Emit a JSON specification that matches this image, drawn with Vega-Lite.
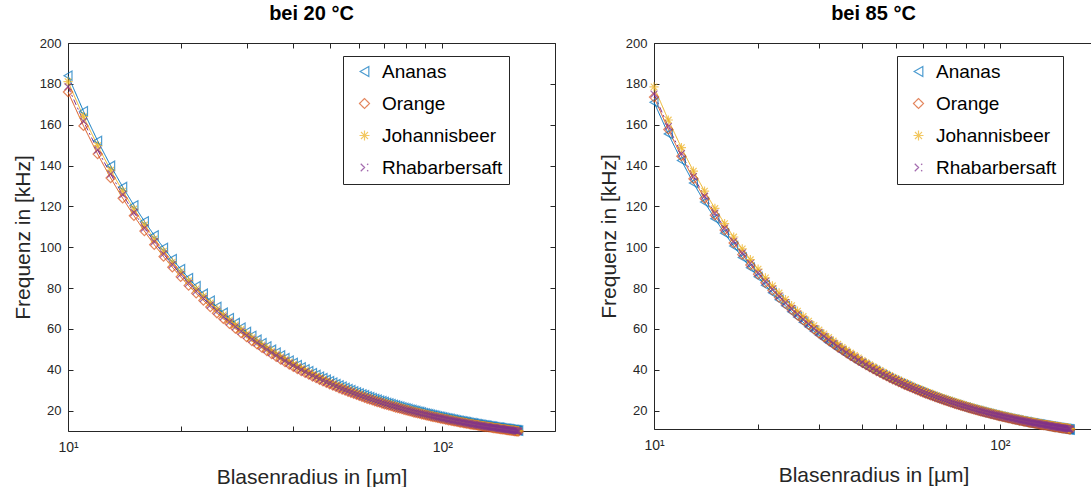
{
"$schema": "https://vega.github.io/schema/vega-lite/v6.json",
"background": "white",
"padding": {"left": 12, "top": 4, "right": 0, "bottom": 0},
"config": {
  "view": {"stroke": null},
  "font": "Liberation Sans",
  "axis": {"domainColor": "#262626", "tickColor": "#262626", "labelColor": "#262626", "titleColor": "#262626", "labelFont": "Liberation Sans", "titleFont": "Liberation Sans", "labelFontSize": 13, "titleFontSize": 21, "titleFontWeight": "normal", "grid": false, "tickSize": -5, "labelPadding": 12, "domainWidth": 1, "tickWidth": 1},
  "title": {"fontSize": 20, "fontWeight": "bold", "color": "#000000", "font": "Liberation Sans"},
  "legend": {"orient": "none", "title": null, "strokeColor": "#262626", "fillColor": "white", "padding": 6, "labelFontSize": 19, "labelFont": "Liberation Sans", "labelColor": "#000000", "symbolSize": 100, "symbolStrokeWidth": 1.2, "rowPadding": 12, "symbolOffset": 6, "labelOffset": 8},
  "concat": {"spacing": 42}
},
"resolve": {"scale": {"color": "independent", "shape": "independent", "strokeDash": "independent"}, "legend": {"color": "independent", "shape": "independent"}},
"datasets": {
"names": [
 {"k":"a","s":"Ananas","i":0},{"k":"o","s":"Orange","i":1},{"k":"j","s":"Johannisbeer","i":2},{"k":"h","s":"Rhabarbersaft","i":3},
 {"k":"a2","s":"Ananas","i":0},{"k":"o2","s":"Orange","i":1},{"k":"j2","s":"Johannisbeer","i":2},{"k":"h2","s":"Rhabarbersaft","i":3}
],
"d": [
{"r":10,"a":184.0,"o":176.0,"j":181.1,"h":178.6,"a2":171.0,"o2":173.5,"j2":178.5,"h2":175.0},
{"r":11,"a":166.6,"o":159.4,"j":163.9,"h":161.7,"a2":155.5,"o2":157.7,"j2":162.3,"h2":159.1},
{"r":12,"a":152.1,"o":145.6,"j":149.7,"h":147.6,"a2":142.5,"o2":144.6,"j2":148.8,"h2":145.8},
{"r":13,"a":139.9,"o":133.9,"j":137.7,"h":135.8,"a2":131.5,"o2":133.5,"j2":137.3,"h2":134.6},
{"r":14,"a":129.5,"o":124.0,"j":127.5,"h":125.7,"a2":122.1,"o2":123.9,"j2":127.5,"h2":125.0},
{"r":15,"a":120.5,"o":115.4,"j":118.7,"h":117.0,"a2":114.0,"o2":115.7,"j2":119.0,"h2":116.7},
{"r":16,"a":112.7,"o":107.9,"j":110.9,"h":109.4,"a2":106.9,"o2":108.4,"j2":111.6,"h2":109.4},
{"r":17,"a":105.8,"o":101.2,"j":104.1,"h":102.7,"a2":100.6,"o2":102.1,"j2":105.0,"h2":102.9},
{"r":18,"a":99.7,"o":95.4,"j":98.1,"h":96.7,"a2":95.0,"o2":96.4,"j2":99.2,"h2":97.2},
{"r":19,"a":94.2,"o":90.2,"j":92.7,"h":91.5,"a2":90.0,"o2":91.3,"j2":93.9,"h2":92.1},
{"r":20,"a":89.3,"o":85.5,"j":87.9,"h":86.7,"a2":85.5,"o2":86.8,"j2":89.3,"h2":87.5},
{"r":21,"a":84.9,"o":81.2,"j":83.6,"h":82.4,"a2":81.4,"o2":82.6,"j2":85.0,"h2":83.3},
{"r":22,"a":80.9,"o":77.4,"j":79.6,"h":78.5,"a2":77.7,"o2":78.9,"j2":81.1,"h2":79.5},
{"r":23,"a":77.2,"o":73.9,"j":76.0,"h":74.9,"a2":74.3,"o2":75.4,"j2":77.6,"h2":76.1},
{"r":24,"a":73.8,"o":70.7,"j":72.7,"h":71.7,"a2":71.3,"o2":72.3,"j2":74.4,"h2":72.9},
{"r":25,"a":70.8,"o":67.7,"j":69.7,"h":68.7,"a2":68.4,"o2":69.4,"j2":71.4,"h2":70.0},
{"r":26,"a":67.9,"o":65.0,"j":66.9,"h":65.9,"a2":65.8,"o2":66.7,"j2":68.7,"h2":67.3},
{"r":27,"a":65.3,"o":62.5,"j":64.3,"h":63.4,"a2":63.3,"o2":64.3,"j2":66.1,"h2":64.8},
{"r":28,"a":62.9,"o":60.2,"j":61.9,"h":61.0,"a2":61.1,"o2":62.0,"j2":63.8,"h2":62.5},
{"r":29,"a":60.6,"o":58.0,"j":59.7,"h":58.8,"a2":59.0,"o2":59.8,"j2":61.6,"h2":60.3},
{"r":30,"a":58.5,"o":56.0,"j":57.6,"h":56.8,"a2":57.0,"o2":57.8,"j2":59.5,"h2":58.3},
{"r":31,"a":56.6,"o":54.1,"j":55.7,"h":54.9,"a2":55.2,"o2":56.0,"j2":57.6,"h2":56.5},
{"r":32,"a":54.7,"o":52.4,"j":53.9,"h":53.1,"a2":53.4,"o2":54.2,"j2":55.8,"h2":54.7},
{"r":33,"a":53.0,"o":50.7,"j":52.2,"h":51.4,"a2":51.8,"o2":52.6,"j2":54.1,"h2":53.0},
{"r":34,"a":51.4,"o":49.2,"j":50.6,"h":49.9,"a2":50.3,"o2":51.0,"j2":52.5,"h2":51.5},
{"r":35,"a":49.8,"o":47.7,"j":49.1,"h":48.4,"a2":48.9,"o2":49.6,"j2":51.0,"h2":50.0},
{"r":36,"a":48.4,"o":46.3,"j":47.6,"h":47.0,"a2":47.5,"o2":48.2,"j2":49.6,"h2":48.6},
{"r":37,"a":47.0,"o":45.0,"j":46.3,"h":45.7,"a2":46.2,"o2":46.9,"j2":48.2,"h2":47.3},
{"r":38,"a":45.7,"o":43.8,"j":45.0,"h":44.4,"a2":45.0,"o2":45.7,"j2":47.0,"h2":46.1},
{"r":39,"a":44.5,"o":42.6,"j":43.8,"h":43.2,"a2":43.8,"o2":44.5,"j2":45.8,"h2":44.9},
{"r":40,"a":43.4,"o":41.5,"j":42.7,"h":42.1,"a2":42.8,"o2":43.4,"j2":44.6,"h2":43.8},
{"r":41,"a":42.3,"o":40.4,"j":41.6,"h":41.0,"a2":41.7,"o2":42.3,"j2":43.5,"h2":42.7},
{"r":42,"a":41.2,"o":39.4,"j":40.6,"h":40.0,"a2":40.7,"o2":41.3,"j2":42.5,"h2":41.7},
{"r":43,"a":40.2,"o":38.5,"j":39.6,"h":39.0,"a2":39.8,"o2":40.3,"j2":41.5,"h2":40.7},
{"r":44,"a":39.3,"o":37.6,"j":38.6,"h":38.1,"a2":38.9,"o2":39.4,"j2":40.6,"h2":39.8},
{"r":45,"a":38.3,"o":36.7,"j":37.7,"h":37.2,"a2":38.0,"o2":38.6,"j2":39.7,"h2":38.9},
{"r":46,"a":37.5,"o":35.9,"j":36.9,"h":36.4,"a2":37.2,"o2":37.7,"j2":38.8,"h2":38.0},
{"r":47,"a":36.6,"o":35.1,"j":36.1,"h":35.6,"a2":36.4,"o2":36.9,"j2":38.0,"h2":37.2},
{"r":48,"a":35.9,"o":34.3,"j":35.3,"h":34.8,"a2":35.6,"o2":36.1,"j2":37.2,"h2":36.5},
{"r":49,"a":35.1,"o":33.6,"j":34.5,"h":34.1,"a2":34.9,"o2":35.4,"j2":36.4,"h2":35.7},
{"r":50,"a":34.4,"o":32.9,"j":33.8,"h":33.4,"a2":34.2,"o2":34.7,"j2":35.7,"h2":35.0},
{"r":51,"a":33.7,"o":32.2,"j":33.1,"h":32.7,"a2":33.5,"o2":34.0,"j2":35.0,"h2":34.3},
{"r":52,"a":33.0,"o":31.6,"j":32.5,"h":32.0,"a2":32.9,"o2":33.4,"j2":34.3,"h2":33.7},
{"r":53,"a":32.3,"o":30.9,"j":31.8,"h":31.4,"a2":32.3,"o2":32.7,"j2":33.7,"h2":33.0},
{"r":54,"a":31.7,"o":30.3,"j":31.2,"h":30.8,"a2":31.7,"o2":32.1,"j2":33.1,"h2":32.4},
{"r":55,"a":31.1,"o":29.8,"j":30.6,"h":30.2,"a2":31.1,"o2":31.5,"j2":32.5,"h2":31.8},
{"r":56,"a":30.5,"o":29.2,"j":30.0,"h":29.6,"a2":30.5,"o2":31.0,"j2":31.9,"h2":31.3},
{"r":57,"a":30.0,"o":28.7,"j":29.5,"h":29.1,"a2":30.0,"o2":30.4,"j2":31.3,"h2":30.7},
{"r":58,"a":29.4,"o":28.2,"j":29.0,"h":28.6,"a2":29.5,"o2":29.9,"j2":30.8,"h2":30.2},
{"r":59,"a":28.9,"o":27.7,"j":28.5,"h":28.1,"a2":29.0,"o2":29.4,"j2":30.3,"h2":29.7},
{"r":60,"a":28.4,"o":27.2,"j":28.0,"h":27.6,"a2":28.5,"o2":28.9,"j2":29.8,"h2":29.2},
{"r":61,"a":27.9,"o":26.7,"j":27.5,"h":27.1,"a2":28.0,"o2":28.4,"j2":29.3,"h2":28.7},
{"r":62,"a":27.5,"o":26.3,"j":27.0,"h":26.7,"a2":27.6,"o2":28.0,"j2":28.8,"h2":28.2},
{"r":63,"a":27.0,"o":25.8,"j":26.6,"h":26.2,"a2":27.1,"o2":27.5,"j2":28.3,"h2":27.8},
{"r":64,"a":26.6,"o":25.4,"j":26.1,"h":25.8,"a2":26.7,"o2":27.1,"j2":27.9,"h2":27.3},
{"r":65,"a":26.1,"o":25.0,"j":25.7,"h":25.4,"a2":26.3,"o2":26.7,"j2":27.5,"h2":26.9},
{"r":66,"a":25.7,"o":24.6,"j":25.3,"h":25.0,"a2":25.9,"o2":26.3,"j2":27.0,"h2":26.5},
{"r":67,"a":25.3,"o":24.2,"j":24.9,"h":24.6,"a2":25.5,"o2":25.9,"j2":26.6,"h2":26.1},
{"r":68,"a":24.9,"o":23.9,"j":24.5,"h":24.2,"a2":25.1,"o2":25.5,"j2":26.3,"h2":25.7},
{"r":69,"a":24.6,"o":23.5,"j":24.2,"h":23.8,"a2":24.8,"o2":25.1,"j2":25.9,"h2":25.4},
{"r":70,"a":24.2,"o":23.1,"j":23.8,"h":23.5,"a2":24.4,"o2":24.8,"j2":25.5,"h2":25.0},
{"r":71,"a":23.8,"o":22.8,"j":23.5,"h":23.1,"a2":24.1,"o2":24.4,"j2":25.1,"h2":24.6},
{"r":72,"a":23.5,"o":22.5,"j":23.1,"h":22.8,"a2":23.8,"o2":24.1,"j2":24.8,"h2":24.3},
{"r":73,"a":23.2,"o":22.2,"j":22.8,"h":22.5,"a2":23.4,"o2":23.8,"j2":24.5,"h2":24.0},
{"r":74,"a":22.8,"o":21.8,"j":22.5,"h":22.2,"a2":23.1,"o2":23.4,"j2":24.1,"h2":23.6},
{"r":75,"a":22.5,"o":21.5,"j":22.2,"h":21.9,"a2":22.8,"o2":23.1,"j2":23.8,"h2":23.3},
{"r":76,"a":22.2,"o":21.3,"j":21.9,"h":21.6,"a2":22.5,"o2":22.8,"j2":23.5,"h2":23.0},
{"r":77,"a":21.9,"o":21.0,"j":21.6,"h":21.3,"a2":22.2,"o2":22.5,"j2":23.2,"h2":22.7},
{"r":78,"a":21.6,"o":20.7,"j":21.3,"h":21.0,"a2":21.9,"o2":22.2,"j2":22.9,"h2":22.4},
{"r":79,"a":21.3,"o":20.4,"j":21.0,"h":20.7,"a2":21.6,"o2":22.0,"j2":22.6,"h2":22.2},
{"r":80,"a":21.1,"o":20.1,"j":20.7,"h":20.4,"a2":21.4,"o2":21.7,"j2":22.3,"h2":21.9},
{"r":81,"a":20.8,"o":19.9,"j":20.5,"h":20.2,"a2":21.1,"o2":21.4,"j2":22.0,"h2":21.6},
{"r":82,"a":20.5,"o":19.6,"j":20.2,"h":19.9,"a2":20.9,"o2":21.2,"j2":21.8,"h2":21.3},
{"r":83,"a":20.3,"o":19.4,"j":19.9,"h":19.7,"a2":20.6,"o2":20.9,"j2":21.5,"h2":21.1},
{"r":84,"a":20.0,"o":19.1,"j":19.7,"h":19.4,"a2":20.4,"o2":20.7,"j2":21.2,"h2":20.8},
{"r":85,"a":19.8,"o":18.9,"j":19.5,"h":19.2,"a2":20.1,"o2":20.4,"j2":21.0,"h2":20.6},
{"r":86,"a":19.5,"o":18.7,"j":19.2,"h":18.9,"a2":19.9,"o2":20.2,"j2":20.8,"h2":20.3},
{"r":87,"a":19.3,"o":18.5,"j":19.0,"h":18.7,"a2":19.7,"o2":19.9,"j2":20.5,"h2":20.1},
{"r":88,"a":19.1,"o":18.2,"j":18.8,"h":18.5,"a2":19.4,"o2":19.7,"j2":20.3,"h2":19.9},
{"r":89,"a":18.8,"o":18.0,"j":18.5,"h":18.3,"a2":19.2,"o2":19.5,"j2":20.1,"h2":19.7},
{"r":90,"a":18.6,"o":17.8,"j":18.3,"h":18.1,"a2":19.0,"o2":19.3,"j2":19.8,"h2":19.4},
{"r":91,"a":18.4,"o":17.6,"j":18.1,"h":17.9,"a2":18.8,"o2":19.1,"j2":19.6,"h2":19.2},
{"r":92,"a":18.2,"o":17.4,"j":17.9,"h":17.7,"a2":18.6,"o2":18.9,"j2":19.4,"h2":19.0},
{"r":93,"a":18.0,"o":17.2,"j":17.7,"h":17.5,"a2":18.4,"o2":18.7,"j2":19.2,"h2":18.8},
{"r":94,"a":17.8,"o":17.0,"j":17.5,"h":17.3,"a2":18.2,"o2":18.5,"j2":19.0,"h2":18.6},
{"r":95,"a":17.6,"o":16.8,"j":17.3,"h":17.1,"a2":18.0,"o2":18.3,"j2":18.8,"h2":18.4},
{"r":96,"a":17.4,"o":16.7,"j":17.1,"h":16.9,"a2":17.8,"o2":18.1,"j2":18.6,"h2":18.2},
{"r":97,"a":17.2,"o":16.5,"j":17.0,"h":16.7,"a2":17.6,"o2":17.9,"j2":18.4,"h2":18.0},
{"r":98,"a":17.0,"o":16.3,"j":16.8,"h":16.5,"a2":17.4,"o2":17.7,"j2":18.2,"h2":17.9},
{"r":99,"a":16.9,"o":16.1,"j":16.6,"h":16.4,"a2":17.3,"o2":17.5,"j2":18.0,"h2":17.7},
{"r":100,"a":16.7,"o":16.0,"j":16.4,"h":16.2,"a2":17.1,"o2":17.4,"j2":17.9,"h2":17.5},
{"r":101,"a":16.5,"o":15.8,"j":16.2,"h":16.0,"a2":16.9,"o2":17.2,"j2":17.7,"h2":17.3},
{"r":102,"a":16.3,"o":15.6,"j":16.1,"h":15.9,"a2":16.8,"o2":17.0,"j2":17.5,"h2":17.2},
{"r":103,"a":16.2,"o":15.5,"j":15.9,"h":15.7,"a2":16.6,"o2":16.8,"j2":17.3,"h2":17.0},
{"r":104,"a":16.0,"o":15.3,"j":15.8,"h":15.5,"a2":16.4,"o2":16.7,"j2":17.2,"h2":16.8},
{"r":105,"a":15.9,"o":15.2,"j":15.6,"h":15.4,"a2":16.3,"o2":16.5,"j2":17.0,"h2":16.7},
{"r":106,"a":15.7,"o":15.0,"j":15.5,"h":15.2,"a2":16.1,"o2":16.4,"j2":16.8,"h2":16.5},
{"r":107,"a":15.5,"o":14.9,"j":15.3,"h":15.1,"a2":16.0,"o2":16.2,"j2":16.7,"h2":16.4},
{"r":108,"a":15.4,"o":14.7,"j":15.2,"h":14.9,"a2":15.8,"o2":16.1,"j2":16.5,"h2":16.2},
{"r":109,"a":15.2,"o":14.6,"j":15.0,"h":14.8,"a2":15.7,"o2":15.9,"j2":16.4,"h2":16.1},
{"r":110,"a":15.1,"o":14.5,"j":14.9,"h":14.7,"a2":15.5,"o2":15.8,"j2":16.2,"h2":15.9},
{"r":111,"a":15.0,"o":14.3,"j":14.7,"h":14.5,"a2":15.4,"o2":15.6,"j2":16.1,"h2":15.8},
{"r":112,"a":14.8,"o":14.2,"j":14.6,"h":14.4,"a2":15.3,"o2":15.5,"j2":15.9,"h2":15.6},
{"r":113,"a":14.7,"o":14.1,"j":14.5,"h":14.3,"a2":15.1,"o2":15.4,"j2":15.8,"h2":15.5},
{"r":114,"a":14.6,"o":13.9,"j":14.3,"h":14.1,"a2":15.0,"o2":15.2,"j2":15.7,"h2":15.4},
{"r":115,"a":14.4,"o":13.8,"j":14.2,"h":14.0,"a2":14.9,"o2":15.1,"j2":15.5,"h2":15.2},
{"r":116,"a":14.3,"o":13.7,"j":14.1,"h":13.9,"a2":14.7,"o2":15.0,"j2":15.4,"h2":15.1},
{"r":117,"a":14.2,"o":13.6,"j":13.9,"h":13.7,"a2":14.6,"o2":14.8,"j2":15.3,"h2":15.0},
{"r":118,"a":14.0,"o":13.4,"j":13.8,"h":13.6,"a2":14.5,"o2":14.7,"j2":15.1,"h2":14.8},
{"r":119,"a":13.9,"o":13.3,"j":13.7,"h":13.5,"a2":14.4,"o2":14.6,"j2":15.0,"h2":14.7},
{"r":120,"a":13.8,"o":13.2,"j":13.6,"h":13.4,"a2":14.3,"o2":14.5,"j2":14.9,"h2":14.6},
{"r":121,"a":13.7,"o":13.1,"j":13.5,"h":13.3,"a2":14.1,"o2":14.3,"j2":14.8,"h2":14.5},
{"r":122,"a":13.6,"o":13.0,"j":13.3,"h":13.2,"a2":14.0,"o2":14.2,"j2":14.6,"h2":14.3},
{"r":123,"a":13.4,"o":12.9,"j":13.2,"h":13.0,"a2":13.9,"o2":14.1,"j2":14.5,"h2":14.2},
{"r":124,"a":13.3,"o":12.8,"j":13.1,"h":12.9,"a2":13.8,"o2":14.0,"j2":14.4,"h2":14.1},
{"r":125,"a":13.2,"o":12.7,"j":13.0,"h":12.8,"a2":13.7,"o2":13.9,"j2":14.3,"h2":14.0},
{"r":126,"a":13.1,"o":12.5,"j":12.9,"h":12.7,"a2":13.6,"o2":13.8,"j2":14.2,"h2":13.9},
{"r":127,"a":13.0,"o":12.4,"j":12.8,"h":12.6,"a2":13.5,"o2":13.7,"j2":14.1,"h2":13.8},
{"r":128,"a":12.9,"o":12.3,"j":12.7,"h":12.5,"a2":13.4,"o2":13.6,"j2":13.9,"h2":13.7},
{"r":129,"a":12.8,"o":12.2,"j":12.6,"h":12.4,"a2":13.3,"o2":13.5,"j2":13.8,"h2":13.6},
{"r":130,"a":12.7,"o":12.1,"j":12.5,"h":12.3,"a2":13.2,"o2":13.3,"j2":13.7,"h2":13.5},
{"r":131,"a":12.6,"o":12.0,"j":12.4,"h":12.2,"a2":13.1,"o2":13.2,"j2":13.6,"h2":13.4},
{"r":132,"a":12.5,"o":12.0,"j":12.3,"h":12.1,"a2":13.0,"o2":13.1,"j2":13.5,"h2":13.3},
{"r":133,"a":12.4,"o":11.9,"j":12.2,"h":12.0,"a2":12.9,"o2":13.0,"j2":13.4,"h2":13.2},
{"r":134,"a":12.3,"o":11.8,"j":12.1,"h":11.9,"a2":12.8,"o2":12.9,"j2":13.3,"h2":13.1},
{"r":135,"a":12.2,"o":11.7,"j":12.0,"h":11.8,"a2":12.7,"o2":12.9,"j2":13.2,"h2":13.0},
{"r":136,"a":12.1,"o":11.6,"j":11.9,"h":11.8,"a2":12.6,"o2":12.8,"j2":13.1,"h2":12.9},
{"r":137,"a":12.0,"o":11.5,"j":11.8,"h":11.7,"a2":12.5,"o2":12.7,"j2":13.0,"h2":12.8},
{"r":138,"a":11.9,"o":11.4,"j":11.7,"h":11.6,"a2":12.4,"o2":12.6,"j2":12.9,"h2":12.7},
{"r":139,"a":11.8,"o":11.3,"j":11.6,"h":11.5,"a2":12.3,"o2":12.5,"j2":12.8,"h2":12.6},
{"r":140,"a":11.7,"o":11.2,"j":11.6,"h":11.4,"a2":12.2,"o2":12.4,"j2":12.8,"h2":12.5},
{"r":141,"a":11.7,"o":11.2,"j":11.5,"h":11.3,"a2":12.1,"o2":12.3,"j2":12.7,"h2":12.4},
{"r":142,"a":11.6,"o":11.1,"j":11.4,"h":11.2,"a2":12.0,"o2":12.2,"j2":12.6,"h2":12.3},
{"r":143,"a":11.5,"o":11.0,"j":11.3,"h":11.2,"a2":12.0,"o2":12.1,"j2":12.5,"h2":12.2},
{"r":144,"a":11.4,"o":10.9,"j":11.2,"h":11.1,"a2":11.9,"o2":12.0,"j2":12.4,"h2":12.2},
{"r":145,"a":11.3,"o":10.8,"j":11.1,"h":11.0,"a2":11.8,"o2":12.0,"j2":12.3,"h2":12.1},
{"r":146,"a":11.2,"o":10.8,"j":11.1,"h":10.9,"a2":11.7,"o2":11.9,"j2":12.2,"h2":12.0},
{"r":147,"a":11.2,"o":10.7,"j":11.0,"h":10.8,"a2":11.6,"o2":11.8,"j2":12.1,"h2":11.9},
{"r":148,"a":11.1,"o":10.6,"j":10.9,"h":10.8,"a2":11.6,"o2":11.7,"j2":12.1,"h2":11.8},
{"r":149,"a":11.0,"o":10.5,"j":10.8,"h":10.7,"a2":11.5,"o2":11.6,"j2":12.0,"h2":11.7},
{"r":150,"a":10.9,"o":10.5,"j":10.8,"h":10.6,"a2":11.4,"o2":11.6,"j2":11.9,"h2":11.7},
{"r":151,"a":10.9,"o":10.4,"j":10.7,"h":10.5,"a2":11.3,"o2":11.5,"j2":11.8,"h2":11.6},
{"r":152,"a":10.8,"o":10.3,"j":10.6,"h":10.5,"a2":11.2,"o2":11.4,"j2":11.7,"h2":11.5},
{"r":153,"a":10.7,"o":10.2,"j":10.5,"h":10.4,"a2":11.2,"o2":11.3,"j2":11.7,"h2":11.4},
{"r":154,"a":10.6,"o":10.2,"j":10.5,"h":10.3,"a2":11.1,"o2":11.3,"j2":11.6,"h2":11.4},
{"r":155,"a":10.6,"o":10.1,"j":10.4,"h":10.3,"a2":11.0,"o2":11.2,"j2":11.5,"h2":11.3},
{"r":156,"a":10.5,"o":10.0,"j":10.3,"h":10.2,"a2":11.0,"o2":11.1,"j2":11.4,"h2":11.2},
{"r":157,"a":10.4,"o":10.0,"j":10.3,"h":10.1,"a2":10.9,"o2":11.1,"j2":11.4,"h2":11.1},
{"r":158,"a":10.4,"o":9.9,"j":10.2,"h":10.0,"a2":10.8,"o2":11.0,"j2":11.3,"h2":11.1},
{"r":159,"a":10.3,"o":9.8,"j":10.1,"h":10.0,"a2":10.8,"o2":10.9,"j2":11.2,"h2":11.0},
{"r":160,"a":10.2,"o":9.8,"j":10.1,"h":9.9,"a2":10.7,"o2":10.8,"j2":11.2,"h2":10.9}
]
},
"hconcat": [
{
  "title": {"text": "bei 20 °C", "offset": 13},
  "width": 487, "height": 388,
  "data": {"name": "d"},
  "transform": [
    {"fold": ["a", "o", "j", "h"], "as": ["k", "f"]},
    {"lookup": "k", "from": {"data": {"name": "names"}, "key": "k", "fields": ["s", "i"]}}
  ],
  "layer": [
    {
      "mark": {"type": "line", "strokeWidth": 1, "clip": false},
      "encoding": {
        "x": {"field": "r", "type": "quantitative", "scale": {"type": "log", "domain": [10, 200], "nice": false}, "axis": {"orient": "bottom", "title": "Blasenradius in [µm]", "values": [10, 20, 30, 40, 50, 60, 70, 80, 90, 100, 200], "labelExpr": "datum.value == 10 ? '10¹' : (datum.value == 100 ? '10²' : '')", "labelPadding": 14, "titlePadding": 12, "labelFlush": false, "labelFontSize": 14}},
        "y": {"field": "f", "type": "quantitative", "scale": {"domain": [10, 200], "nice": false, "zero": false}, "axis": {"orient": "left", "title": "Frequenz in [kHz]", "values": [20, 40, 60, 80, 100, 120, 140, 160, 180, 200], "titlePadding": 6}},
        "color": {"field": "s", "type": "nominal", "scale": {"domain": ["Ananas", "Orange", "Johannisbeer", "Rhabarbersaft"], "range": ["#0072BD", "#D95319", "#EDB120", "#7E2F8E"]}, "legend": {"legendX": 275, "legendY": 13}},
        "strokeDash": {"field": "s", "type": "nominal", "scale": {"domain": ["Ananas", "Orange", "Johannisbeer", "Rhabarbersaft"], "range": [[1, 0], [1, 0], [1, 0], [6, 3, 2, 3]]}, "legend": null}
      }
    },
    {
      "mark": {"type": "point", "filled": false, "size": 85, "strokeWidth": 1.2, "clip": false},
      "encoding": {
        "x": {"field": "r", "type": "quantitative", "scale": {"type": "log", "domain": [10, 200], "nice": false}, "axis": {"orient": "top", "title": null, "labels": false, "values": [10, 20, 30, 40, 50, 60, 70, 80, 90, 100, 200]}},
        "y": {"field": "f", "type": "quantitative", "scale": {"domain": [10, 200], "nice": false, "zero": false}, "axis": {"orient": "right", "title": null, "labels": false, "values": [20, 40, 60, 80, 100, 120, 140, 160, 180, 200]}},
        "color": {"field": "s", "type": "nominal", "scale": {"domain": ["Ananas", "Orange", "Johannisbeer", "Rhabarbersaft"], "range": ["#0072BD", "#D95319", "#EDB120", "#7E2F8E"]}, "legend": {"legendX": 275, "legendY": 13}},
        "shape": {"field": "s", "type": "nominal", "scale": {"domain": ["Ananas", "Orange", "Johannisbeer", "Rhabarbersaft"], "range": ["triangle-left", "diamond", "M-1,0L1,0M0,-1L0,1M-0.7,-0.7L0.7,0.7M-0.7,0.7L0.7,-0.7", "M-0.75,-0.75L0.75,0.75M-0.75,0.75L0.75,-0.75"]}, "legend": {"legendX": 275, "legendY": 13}},
        "order": {"field": "i", "type": "quantitative"}
      }
    }
  ],
  "resolve": {"axis": {"x": "independent", "y": "independent"}}
},
{
  "title": {"text": "bei 85 °C", "offset": 13},
  "width": 439, "height": 386,
  "data": {"name": "d"},
  "transform": [
    {"fold": ["a2", "o2", "j2", "h2"], "as": ["k", "f"]},
    {"lookup": "k", "from": {"data": {"name": "names"}, "key": "k", "fields": ["s", "i"]}}
  ],
  "layer": [
    {
      "mark": {"type": "line", "strokeWidth": 1, "clip": false},
      "encoding": {
        "x": {"field": "r", "type": "quantitative", "scale": {"type": "log", "domain": [10, 186], "nice": false}, "axis": {"orient": "bottom", "title": "Blasenradius in [µm]", "values": [10, 20, 30, 40, 50, 60, 70, 80, 90, 100], "labelExpr": "datum.value == 10 ? '10¹' : (datum.value == 100 ? '10²' : '')", "labelPadding": 14, "titlePadding": 12, "labelFlush": false, "labelFontSize": 14}},
        "y": {"field": "f", "type": "quantitative", "scale": {"domain": [11, 200], "nice": false, "zero": false}, "axis": {"orient": "left", "title": "Frequenz in [kHz]", "values": [20, 40, 60, 80, 100, 120, 140, 160, 180, 200], "titlePadding": 6}},
        "color": {"field": "s", "type": "nominal", "scale": {"domain": ["Ananas", "Orange", "Johannisbeer", "Rhabarbersaft"], "range": ["#0072BD", "#D95319", "#EDB120", "#7E2F8E"]}, "legend": {"legendX": 243, "legendY": 13}},
        "strokeDash": {"field": "s", "type": "nominal", "scale": {"domain": ["Ananas", "Orange", "Johannisbeer", "Rhabarbersaft"], "range": [[1, 0], [1, 0], [1, 0], [6, 3, 2, 3]]}, "legend": null}
      }
    },
    {
      "mark": {"type": "point", "filled": false, "size": 85, "strokeWidth": 1.2, "clip": false},
      "encoding": {
        "x": {"field": "r", "type": "quantitative", "scale": {"type": "log", "domain": [10, 186], "nice": false}, "axis": {"orient": "top", "title": null, "labels": false, "values": [10, 20, 30, 40, 50, 60, 70, 80, 90, 100]}},
        "y": {"field": "f", "type": "quantitative", "scale": {"domain": [11, 200], "nice": false, "zero": false}, "axis": null},
        "color": {"field": "s", "type": "nominal", "scale": {"domain": ["Ananas", "Orange", "Johannisbeer", "Rhabarbersaft"], "range": ["#0072BD", "#D95319", "#EDB120", "#7E2F8E"]}, "legend": {"legendX": 243, "legendY": 13}},
        "shape": {"field": "s", "type": "nominal", "scale": {"domain": ["Ananas", "Orange", "Johannisbeer", "Rhabarbersaft"], "range": ["triangle-left", "diamond", "M-1,0L1,0M0,-1L0,1M-0.7,-0.7L0.7,0.7M-0.7,0.7L0.7,-0.7", "M-0.75,-0.75L0.75,0.75M-0.75,0.75L0.75,-0.75"]}, "legend": {"legendX": 243, "legendY": 13}},
        "order": {"field": "i", "type": "quantitative"}
      }
    }
  ],
  "resolve": {"axis": {"x": "independent", "y": "independent"}}
}
]
}
